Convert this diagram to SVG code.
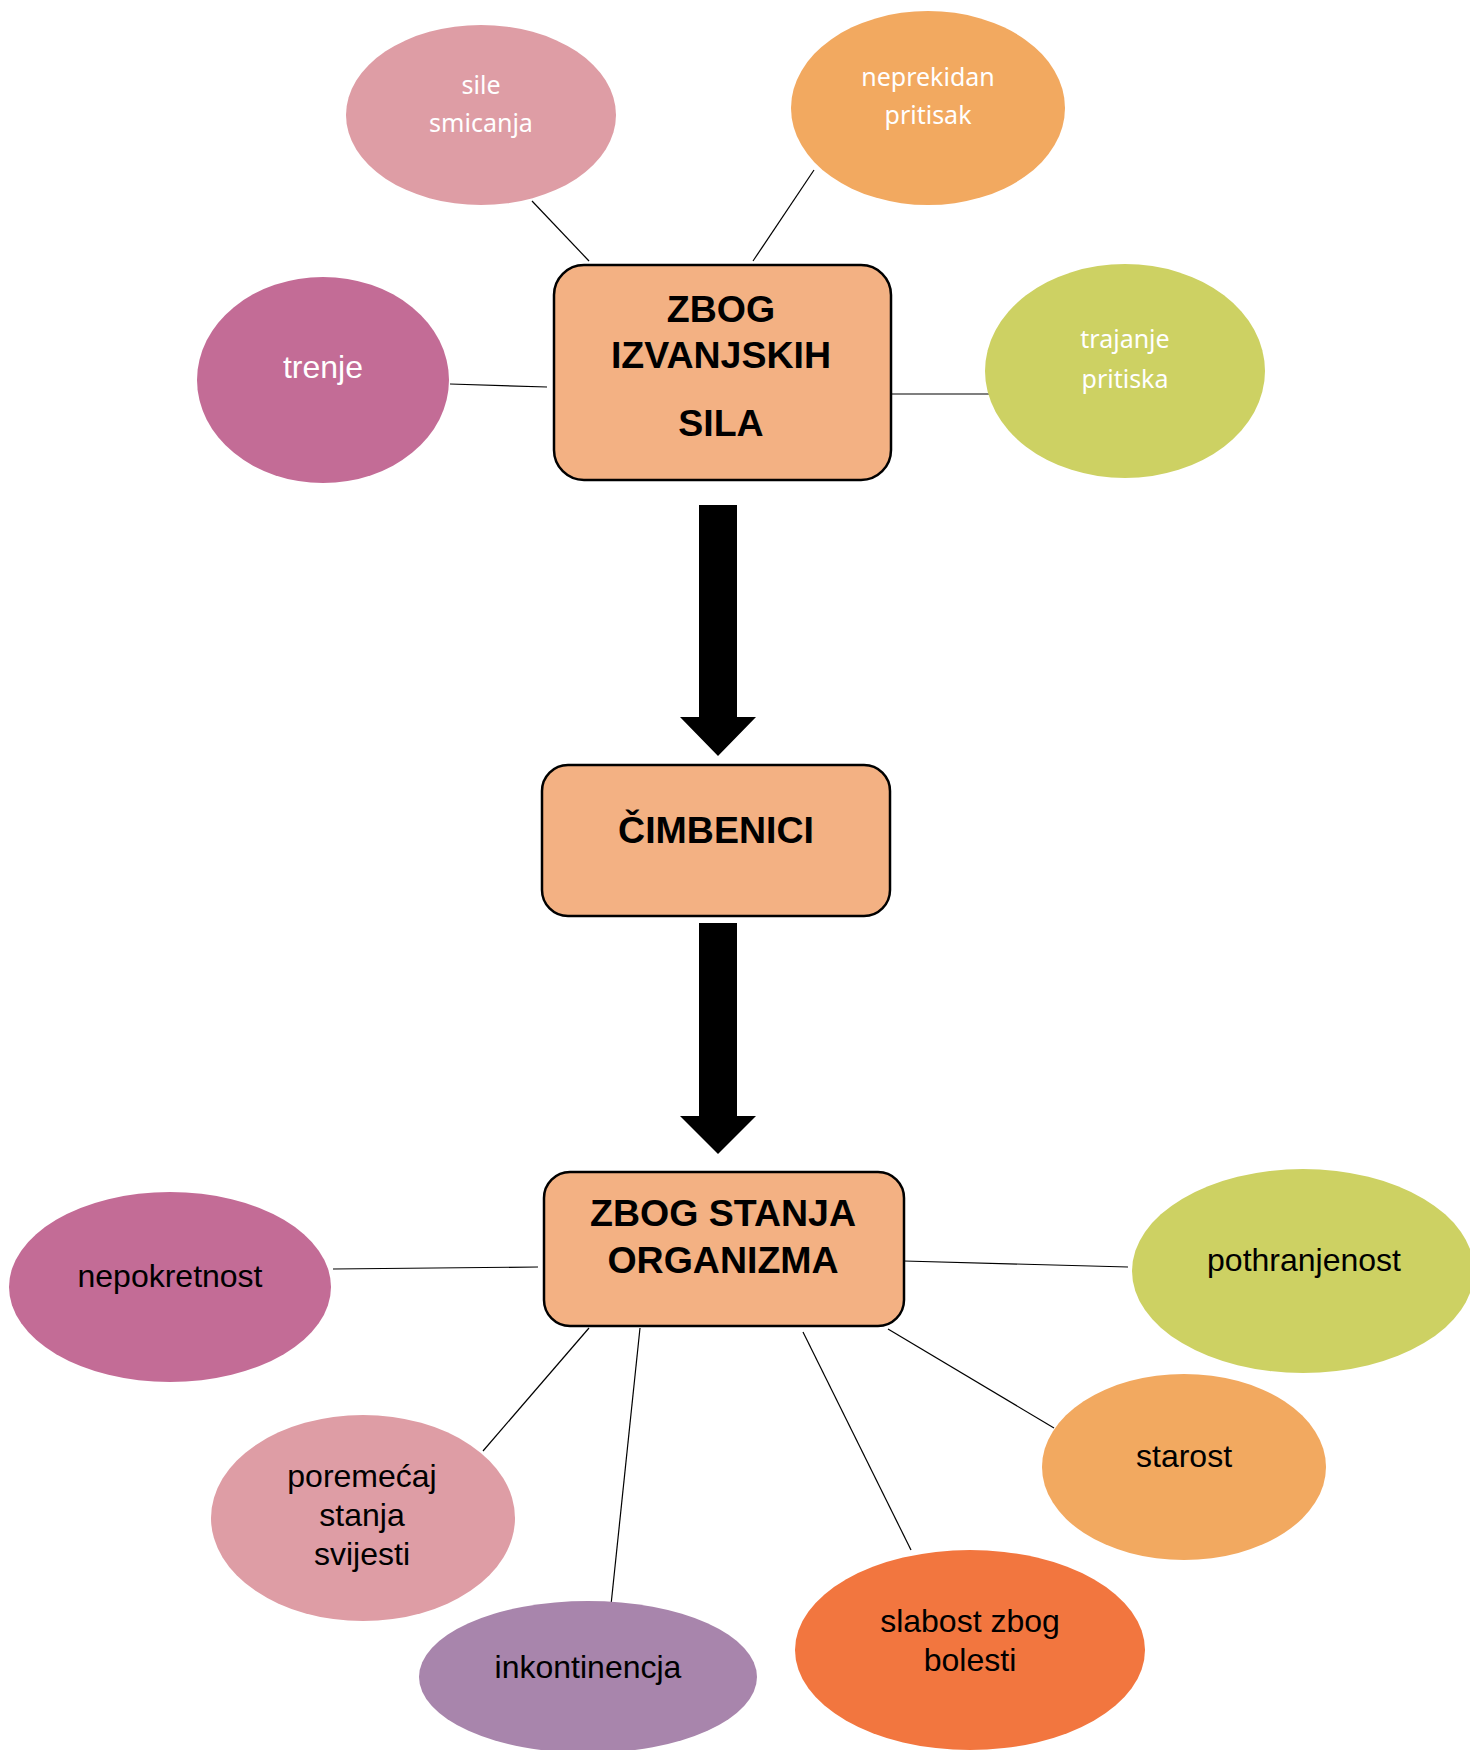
<svg xmlns="http://www.w3.org/2000/svg" width="1470" height="1750" viewBox="0 0 1470 1750">
<style>
.box{fill:#F3B183;stroke:#000;stroke-width:2.5}
.bt{font-family:"Liberation Sans",Arial,sans-serif;font-weight:bold;font-size:37.5px;fill:#000;text-anchor:middle}
.wt{font-family:"Noto Sans","Open Sans",sans-serif;font-size:25px;fill:#fff;text-anchor:middle}
.at{font-family:"Liberation Sans",Arial,sans-serif;font-size:32px;fill:#000;text-anchor:middle}
.aw{font-family:"Liberation Sans",Arial,sans-serif;font-size:32px;fill:#fff;text-anchor:middle}
.ln{stroke:#000;stroke-width:1.2;fill:none}
.arr{fill:#000}
</style>
<rect width="1470" height="1750" fill="#fff"/>
<g id="connectors">
<line class="ln" x1="532" y1="201" x2="589" y2="261"/>
<line class="ln" x1="814" y1="170" x2="753" y2="261"/>
<line class="ln" x1="450" y1="384" x2="547" y2="387"/>
<line class="ln" x1="891" y1="394" x2="993" y2="394"/>
<line class="ln" x1="333" y1="1269" x2="538" y2="1267"/>
<line class="ln" x1="904" y1="1261" x2="1128" y2="1267"/>
<line class="ln" x1="888" y1="1329" x2="1054" y2="1428"/>
<line class="ln" x1="589" y1="1328" x2="483" y2="1451"/>
<line class="ln" x1="640" y1="1328" x2="611" y2="1605"/>
<line class="ln" x1="803" y1="1332" x2="911" y2="1550"/>
<polygon class="arr" points="699,505 737,505 737,717 756,717 718,756 680,717 699,717"/>
<polygon class="arr" points="699,923 737,923 737,1116 756,1116 718,1154 680,1116 699,1116"/>
</g>
<g id="node-izvanjskih">
<rect class="box" x="554" y="265" width="337" height="215" rx="30"/>
<text class="bt" x="721" y="322">ZBOG</text>
<text class="bt" x="721" y="368">IZVANJSKIH</text>
<text class="bt" x="721" y="436">SILA</text>
</g>
<g id="node-cimbenici">
<rect class="box" x="542" y="765" width="348" height="151" rx="26"/>
<text class="bt" x="716" y="843">ČIMBENICI</text>
</g>
<g id="node-organizma">
<rect class="box" x="544" y="1172" width="360" height="154" rx="26"/>
<text class="bt" x="723" y="1226">ZBOG STANJA</text>
<text class="bt" x="723" y="1273">ORGANIZMA</text>
</g>
<g id="node-sile">
<ellipse cx="481" cy="115" rx="135" ry="90" fill="#DE9DA5"/>
<text class="wt" x="481" y="94">sile</text>
<text class="wt" x="481" y="132">smicanja</text>
</g>
<g id="node-neprekidan">
<ellipse cx="928" cy="108" rx="137" ry="97" fill="#F2A960"/>
<text class="wt" x="928" y="86">neprekidan</text>
<text class="wt" x="928" y="124">pritisak</text>
</g>
<g id="node-trenje">
<ellipse cx="323" cy="380" rx="126" ry="103" fill="#C36C96"/>
<text class="aw" x="323" y="378">trenje</text>
</g>
<g id="node-trajanje">
<ellipse cx="1125" cy="371" rx="140" ry="107" fill="#CDD163"/>
<text class="wt" x="1125" y="348">trajanje</text>
<text class="wt" x="1125" y="388">pritiska</text>
</g>
<g id="node-nepokretnost">
<ellipse cx="170" cy="1287" rx="161" ry="95" fill="#C36C96"/>
<text class="at" x="170" y="1287">nepokretnost</text>
</g>
<g id="node-pothranjenost">
<ellipse cx="1303" cy="1271" rx="171" ry="102" fill="#CDD163"/>
<text class="at" x="1304" y="1271">pothranjenost</text>
</g>
<g id="node-starost">
<ellipse cx="1184" cy="1467" rx="142" ry="93" fill="#F2A960"/>
<text class="at" x="1184" y="1467">starost</text>
</g>
<g id="node-poremecaj">
<ellipse cx="363" cy="1518" rx="152" ry="103" fill="#DE9DA5"/>
<text class="at" x="362" y="1487">poremećaj</text>
<text class="at" x="362" y="1526">stanja</text>
<text class="at" x="362" y="1565">svijesti</text>
</g>
<g id="node-inkontinencja">
<ellipse cx="588" cy="1677" rx="169" ry="76" fill="#A885AC"/>
<text class="at" x="588" y="1678">inkontinencja</text>
</g>
<g id="node-slabost">
<ellipse cx="970" cy="1650" rx="175" ry="100" fill="#F2763F"/>
<text class="at" x="970" y="1632">slabost zbog</text>
<text class="at" x="970" y="1671">bolesti</text>
</g>
</svg>
